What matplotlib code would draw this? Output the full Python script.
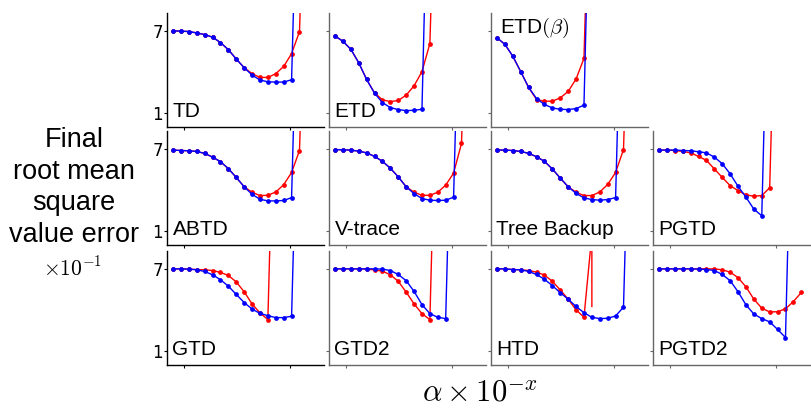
"""Final RMSVE vs step size for the twelve TD-style algorithms (3x4 small multiples)."""
import matplotlib

matplotlib.use("Agg")
import matplotlib.pyplot as plt  # noqa: E402
import numpy as np  # noqa: E402

plt.rcParams["font.family"] = ["Liberation Sans", "DejaVu Sans"]
plt.rcParams["mathtext.fontset"] = "cm"

# diverged runs end far above the plotted range
DIV = 25.0

TD_BLUE = [7.0, 6.98, 6.95, 6.85, 6.73, 6.54, 6.15, 5.63, 4.95, 4.32, 3.78, 3.42, 3.29, 3.27, 3.27, 3.44, DIV]
TD_RED = [7.0, 6.98, 6.95, 6.85, 6.73, 6.54, 6.15, 5.63, 4.95, 4.32, 3.88, 3.61, 3.61, 3.88, 4.41, 5.34, 6.95, DIV]

ETD_BLUE = [6.63, 6.24, 5.66, 4.68, 3.46, 2.46, 1.78, 1.41, 1.27, 1.19, 1.22, 1.29, DIV]
ETD_RED = [6.63, 6.24, 5.66, 4.68, 3.46, 2.48, 1.98, 1.85, 1.93, 2.32, 3.0, 4.03, 6.07, DIV]

ETDB_BLUE = [6.49, 6.02, 5.15, 4.03, 2.88, 2.07, 1.64, 1.39, 1.29, 1.27, 1.34, 1.59, DIV]
ETDB_RED = [6.49, 6.02, 5.15, 4.03, 2.88, 2.0, 1.88, 1.88, 2.12, 2.59, 3.49, 5.0, DIV]

ABTD_BLUE = [6.91, 6.88, 6.86, 6.81, 6.67, 6.40, 6.07, 5.56, 4.92, 4.24, 3.69, 3.33, 3.21, 3.21, 3.24, 3.45, DIV]
ABTD_RED = [6.91, 6.88, 6.86, 6.81, 6.67, 6.40, 6.07, 5.56, 4.92, 4.24, 3.84, 3.60, 3.62, 3.86, 4.39, 5.28, 6.88, DIV]

VTRACE_BLUE = [6.95, 6.93, 6.91, 6.83, 6.71, 6.45, 6.09, 5.59, 4.96, 4.24, 3.74, 3.38, 3.26, 3.24, 3.26, 3.48, DIV]
VTRACE_RED = [6.95, 6.93, 6.91, 6.83, 6.71, 6.45, 6.09, 5.59, 4.96, 4.24, 3.84, 3.62, 3.62, 3.84, 4.36, 5.23, 7.39, DIV]

TB_BLUE = [6.91, 6.91, 6.88, 6.81, 6.67, 6.43, 6.09, 5.54, 4.87, 4.24, 3.76, 3.43, 3.31, 3.26, 3.31, 3.45, DIV]
TB_RED = [6.91, 6.91, 6.88, 6.81, 6.67, 6.43, 6.09, 5.54, 4.87, 4.24, 3.84, 3.60, 3.60, 3.86, 4.41, 5.28, 6.95, DIV]

PGTD_BLUE = [6.91, 6.91, 6.91, 6.88, 6.86, 6.79, 6.71, 6.40, 5.92, 5.18, 4.27, 3.48, 2.61, 2.13, DIV]
PGTD_RED = [6.91, 6.91, 6.88, 6.81, 6.71, 6.45, 6.16, 5.54, 4.92, 4.32, 3.96, 3.65, 3.55, 3.60, 4.17, DIV]

GTD_BLUE = [7.0, 7.0, 6.98, 6.93, 6.81, 6.57, 6.21, 5.74, 5.14, 4.55, 4.07, 3.76, 3.59, 3.45, 3.45, 3.55, DIV]
GTD_RED = [7.0, 7.0, 6.98, 6.95, 6.93, 6.88, 6.74, 6.52, 6.05, 5.33, 4.45, 3.79, 3.31, DIV]

GTD2_BLUE = [7.0, 7.0, 7.0, 7.0, 7.0, 7.0, 6.98, 6.88, 6.59, 6.14, 5.36, 4.40, 3.74, 3.47, 3.38, DIV]
GTD2_RED = [7.0, 7.0, 7.0, 7.0, 6.98, 6.93, 6.83, 6.57, 6.09, 5.31, 4.45, 3.74, 3.31, DIV]

HTD_BLUE = [7.0, 7.0, 6.95, 6.93, 6.81, 6.59, 6.24, 5.78, 5.26, 4.79, 4.26, 3.81, 3.47, 3.38, 3.40, 3.57, 4.21, DIV]
HTD_RED = [7.0, 7.0, 6.95, 6.93, 6.88, 6.76, 6.55, 6.09, 5.47, 4.79, 4.02, 3.47, 9.5, 4.26]
HTD_RED_X = [0, 1, 2, 3, 4, 5, 6, 7, 8, 9, 10, 11, 12, 12]

PGTD2_BLUE = [7.0, 7.0, 7.0, 7.0, 7.0, 6.98, 6.95, 6.88, 6.59, 6.14, 5.33, 4.38, 3.71, 3.38, 3.14, 2.59, 2.0, DIV]
PGTD2_RED = [7.0, 7.0, 7.0, 7.0, 7.0, 7.0, 7.0, 7.0, 6.93, 6.76, 6.36, 5.69, 4.79, 4.14, 3.86, 3.88, 4.09, 4.62, 5.28]

# (row, col, label, blue, red)
PANELS = [
    (0, 0, "TD", TD_BLUE, TD_RED),
    (0, 1, "ETD", ETD_BLUE, ETD_RED),
    (0, 2, r"ETD$(\beta)$", ETDB_BLUE, ETDB_RED),
    (1, 0, "ABTD", ABTD_BLUE, ABTD_RED),
    (1, 1, "V-trace", VTRACE_BLUE, VTRACE_RED),
    (1, 2, "Tree Backup", TB_BLUE, TB_RED),
    (1, 3, "PGTD", PGTD_BLUE, PGTD_RED),
    (2, 0, "GTD", GTD_BLUE, GTD_RED),
    (2, 1, "GTD2", GTD2_BLUE, GTD2_RED),
    (2, 2, "HTD", HTD_BLUE, HTD_RED),
    (2, 3, "PGTD2", PGTD2_BLUE, PGTD2_RED),
]

W, H = 812, 408
COL_LEFT = [167, 329, 491, 653]
ROW_BOTTOM = [127, 245, 365]
AX_W, AX_H = 157, 114


def draw_panel(fig, row, col, label, blue, red):
    left = COL_LEFT[col] / W
    bottom = 1 - ROW_BOTTOM[row] / H
    ax = fig.add_axes([left, bottom, AX_W / W, AX_H / H])

    if label == "HTD":
        ax.plot(HTD_RED_X, red, color="red", lw=1.0, marker="o", ms=2.4,
                markevery=list(range(12)))
    else:
        ax.plot(np.arange(len(red)), red, color="red", lw=1.0, marker="o", ms=2.4)
    ax.plot(np.arange(len(blue)), blue, color="blue", lw=1.0, marker="o", ms=2.4)

    ax.set_xlim(-0.76, 19.1)
    ax.set_ylim(0, 8.3)
    ax.set_xticks([1.4, 14.8])
    ax.set_xticklabels([])
    ax.set_yticks([1, 7])
    spine_col = "black" if col == 0 else "#666666"
    for side in ("top", "right"):
        ax.spines[side].set_visible(False)
    for side in ("left", "bottom"):
        ax.spines[side].set_color(spine_col)
        ax.spines[side].set_linewidth(1.0)
    ax.tick_params(length=2, width=0.8, color=spine_col, pad=1)
    if col == 0:
        ax.set_yticklabels(["1", "7"], fontsize=12, family="DejaVu Sans")
    else:
        ax.set_yticklabels([])

    if row == 0 and col == 2:
        ax.text(0.057, 0.825, label, transform=ax.transAxes, fontsize=15,
                va="baseline", ha="left")
    else:
        ax.text(0.035, 0.085, label, transform=ax.transAxes, fontsize=15,
                va="baseline", ha="left")


def main():
    fig = plt.figure(figsize=(W / 100, H / 100), dpi=100)
    for row, col, label, blue, red in PANELS:
        draw_panel(fig, row, col, label, blue, red)

    fig.text(74 / W, 1 - 242 / H, "Final\nroot mean\nsquare\nvalue error",
             ha="center", va="baseline", fontsize=19.5, linespacing=1.28)
    fig.text(73 / W, 1 - 276 / H, r"$\times 10^{-1}$", ha="center",
             va="baseline", fontsize=15.5)
    fig.text(480 / W, 1 - 401 / H, r"$\alpha \times 10^{-x}$", ha="center",
             va="baseline", fontsize=22)

    fig.savefig("out.png", dpi=100)
    plt.close(fig)


if __name__ == "__main__":
    main()
